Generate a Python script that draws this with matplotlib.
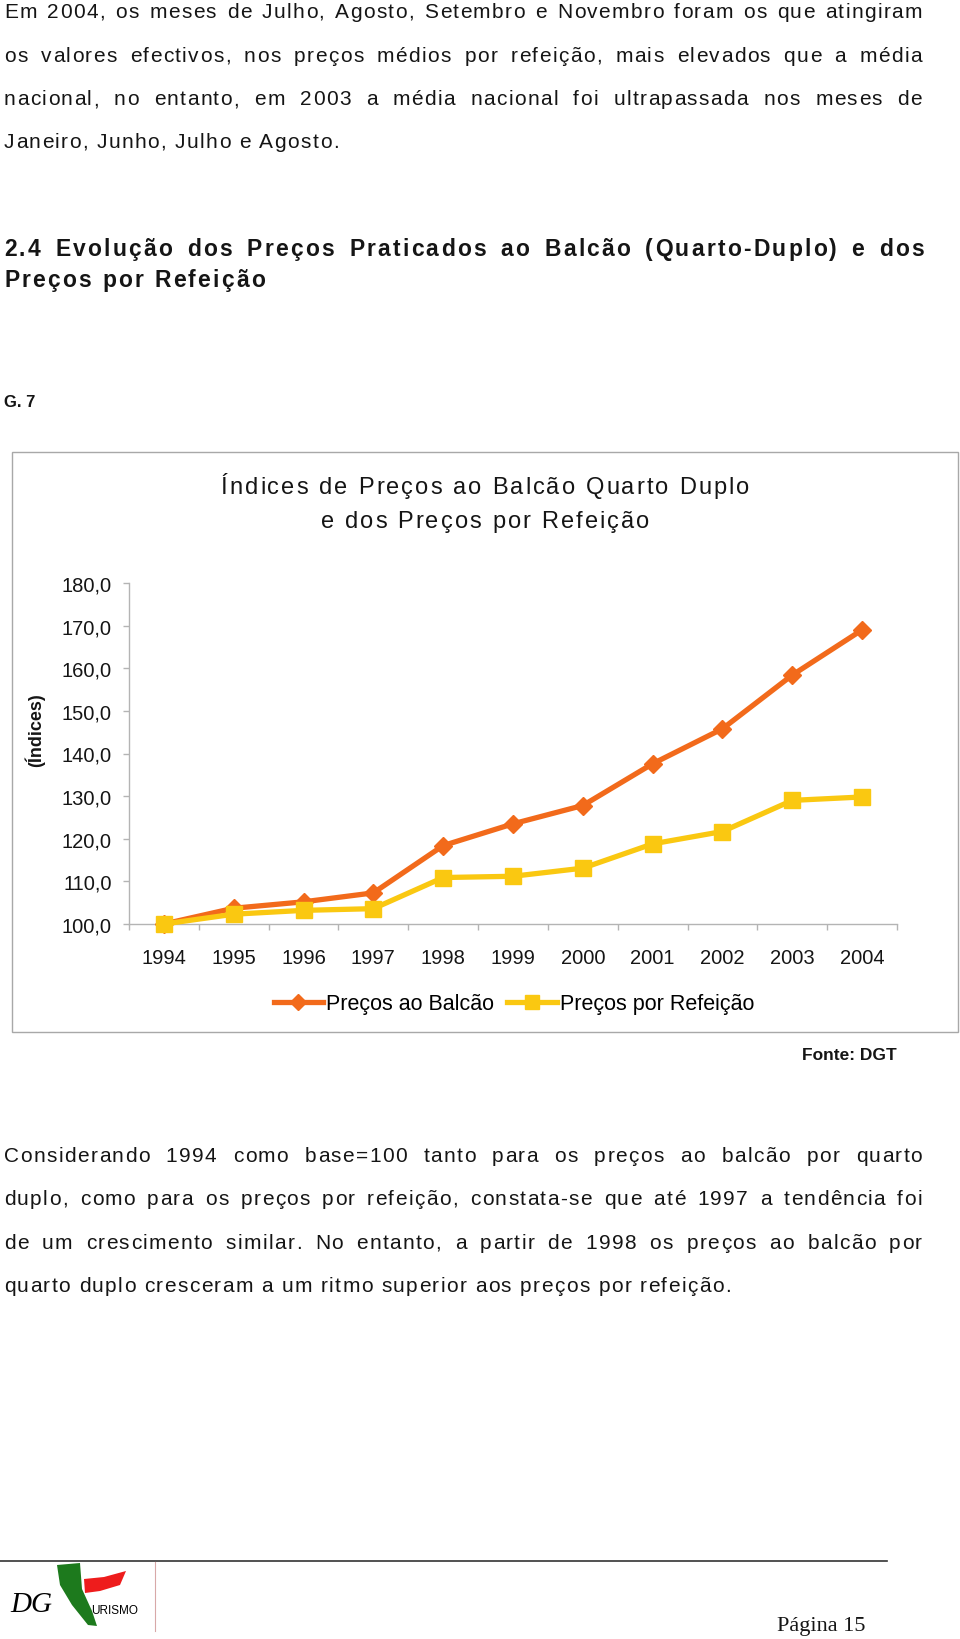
import numpy as np
import matplotlib.pyplot as plt
from matplotlib.patches import Rectangle, Polygon
from matplotlib.lines import Line2D
from matplotlib.font_manager import FontProperties, findfont
from matplotlib import ft2font

# dados do gráfico G.7
anos = ['1994', '1995', '1996', '1997', '1998', '1999', '2000', '2001', '2002', '2003', '2004']
precos_balcao = [100.0, 103.7, 105.2, 107.3, 118.4, 123.5, 127.8, 137.6, 145.8, 158.4, 169.0]
precos_refeicao = [100.0, 102.3, 103.2, 103.6, 110.9, 111.2, 113.1, 118.8, 121.7, 129.0, 129.8]
y_ticks = [100, 110, 120, 130, 140, 150, 160, 170, 180]
series_nomes = ['Preços ao Balcão', 'Preços por Refeição']

texto1 = ["Em 2004, os meses de Julho, Agosto, Setembro e Novembro foram os que atingiram",
          "os valores efectivos, nos preços médios por refeição, mais elevados que a média",
          "nacional, no entanto, em 2003 a média nacional foi ultrapassada nos meses de",
          "Janeiro, Junho, Julho e Agosto."]
titulo_sec = ["2.4 Evolução dos Preços Praticados ao Balcão (Quarto-Duplo) e dos",
              "Preços por Refeição"]
titulo_graf = ["Índices de Preços ao Balcão Quarto Duplo", "e dos Preços por Refeição"]
texto2 = ["Considerando 1994 como base=100 tanto para os preços ao balcão por quarto",
          "duplo, como para os preços por refeição, constata-se que até 1997 a tendência foi",
          "de um crescimento similar. No entanto, a partir de 1998 os preços ao balcão por",
          "quarto duplo cresceram a um ritmo superior aos preços por refeição."]

plt.rcParams['font.family'] = ['Liberation Sans', 'DejaVu Sans']
COR_LARANJA = '#F26A1B'
COR_AMARELO = '#FAC811'
COR_TEXTO = '#151515'
COR_EIXO = '#b4b4b4'
DPI = 100

fig = plt.figure(figsize=(9.6, 16.4), dpi=DPI)
fig.patch.set_facecolor('white')

# "página" em coordenadas de pixel
page = fig.add_axes([0, 0, 1, 1])
page.set_xlim(0, 960)
page.set_ylim(1640, 0)
page.axis('off')

_fontes = {}


def avanco(c, size, weight):
    # largura de avanço do carácter, em pixels
    key = (size, weight)
    if key not in _fontes:
        f = ft2font.FT2Font(findfont(FontProperties(family='Liberation Sans', weight=weight)))
        f.set_size(size, DPI)
        _fontes[key] = f
    return _fontes[key].load_char(ord(c)).linearHoriAdvance / 65536


def linha(texto, y, x0=4, size=15, weight='normal', track=1.4, x1=None, centro=None):
    # texto com espaçamento entre letras; justificado até x1 se indicado
    palavras = texto.split(' ')
    larg = [sum(avanco(c, size, weight) for c in p) + track * (len(p) - 1) for p in palavras]
    if x1 is not None:
        gap = (x1 - x0 - sum(larg)) / (len(palavras) - 1)
    else:
        gap = avanco(' ', size, weight) + 2 * track
    if centro is not None:
        x0 = centro - (sum(larg) + gap * (len(palavras) - 1)) / 2
    x = x0
    for p, w in zip(palavras, larg):
        cx = x
        for c in p:
            page.text(cx, y, c, fontsize=size, fontweight=weight, color=COR_TEXTO,
                      ha='left', va='baseline')
            cx += avanco(c, size, weight) + track
        x += w + gap


for i, (t, y) in enumerate(zip(texto1, [18, 62, 105, 148])):
    linha(t, y, x1=922 if i < 3 else None)

linha(titulo_sec[0], 256, size=16.5, weight='bold', track=2.2, x1=924)
linha(titulo_sec[1], 287, size=16.5, weight='bold', track=2.2)

page.text(4, 407, 'G. 7', fontsize=12, fontweight='bold', color=COR_TEXTO, va='baseline')

# caixa do gráfico
page.add_patch(Rectangle((12, 453), 946, 580, fill=False, edgecolor='#a8a8a8', lw=1))
linha(titulo_graf[0], 494, size=17, track=2.1, centro=485)
linha(titulo_graf[1], 528, size=17, track=2.1, centro=485)
page.text(35, 730, '(Índices)', fontsize=13, fontweight='bold', rotation=90,
          ha='center', va='center', color=COR_TEXTO)
page.text(897, 1060, 'Fonte: DGT', fontsize=12.5, fontweight='bold', ha='right',
          va='baseline', color=COR_TEXTO)

for i, (t, y) in enumerate(zip(texto2, [1162, 1205, 1249, 1292])):
    linha(t, y, x1=922 if i < 3 else None)

# rodapé
page.add_line(Line2D([0, 887], [1562, 1562], color='#333333', lw=1.2))
page.add_line(Line2D([155, 155], [1563, 1632], color='#d8a8a8', lw=0.8))
page.add_patch(Polygon([[57, 1566], [80, 1564], [82, 1590], [92, 1612], [97, 1627],
                        [88, 1626], [72, 1606], [60, 1586]], closed=True,
                       facecolor='#1d7a1d', edgecolor='none'))
page.add_patch(Polygon([[84, 1580], [104, 1578], [126, 1572], [120, 1586], [100, 1592],
                        [85, 1594]], closed=True, facecolor='#ee1c1c', edgecolor='none'))
page.text(10, 1612, 'DG', fontsize=21, family='Liberation Serif', style='italic',
          va='baseline', color='black')
page.text(91, 1614, 'URISMO', fontsize=8.5, va='baseline', color='black')
page.text(821, 1631, 'Página 15', fontsize=16, family='Liberation Serif', ha='center',
          va='baseline', color=COR_TEXTO)

# eixo do gráfico
ax = fig.add_axes([129 / 960, 1 - 925 / 1640, 768 / 960, 341 / 1640])
ax.set_facecolor('none')
x = np.arange(len(anos))
ax.plot(x, precos_balcao, color=COR_LARANJA, lw=3.8, marker='D', ms=9,
        mec=COR_LARANJA, label=series_nomes[0], clip_on=False, zorder=3)
ax.plot(x, precos_refeicao, color=COR_AMARELO, lw=3.8, marker='s', ms=11.5,
        mec=COR_AMARELO, label=series_nomes[1], clip_on=False, zorder=4)

ax.set_xlim(-0.5, len(anos) - 0.5)
ax.set_ylim(100, 180)
ax.set_yticks(y_ticks)
ax.set_yticklabels([f'{v:.1f}'.replace('.', ',') for v in y_ticks])
ax.set_xticks(x)
ax.set_xticklabels(anos)
ax.set_xticks(np.arange(-0.5, len(anos)), minor=True)
ax.tick_params(axis='y', length=4.3, width=1, color=COR_EIXO, pad=8,
               labelsize=14.5, labelcolor=COR_TEXTO)
ax.tick_params(axis='x', which='major', length=0, pad=17, labelsize=14.5,
               labelcolor=COR_TEXTO)
ax.tick_params(axis='x', which='minor', length=4, width=1, color=COR_EIXO)
for s in ['top', 'right']:
    ax.spines[s].set_visible(False)
for s in ['left', 'bottom']:
    ax.spines[s].set_color(COR_EIXO)
    ax.spines[s].set_linewidth(1)

ax.legend(loc='center', bbox_to_anchor=(514 / 960, 1 - 1005 / 1640),
          bbox_transform=fig.transFigure, ncol=2, frameon=False, fontsize=15.5,
          handlelength=2.3, handletextpad=0.15, columnspacing=0.6, markerscale=0.9)

fig.savefig('out.png', dpi=DPI)
